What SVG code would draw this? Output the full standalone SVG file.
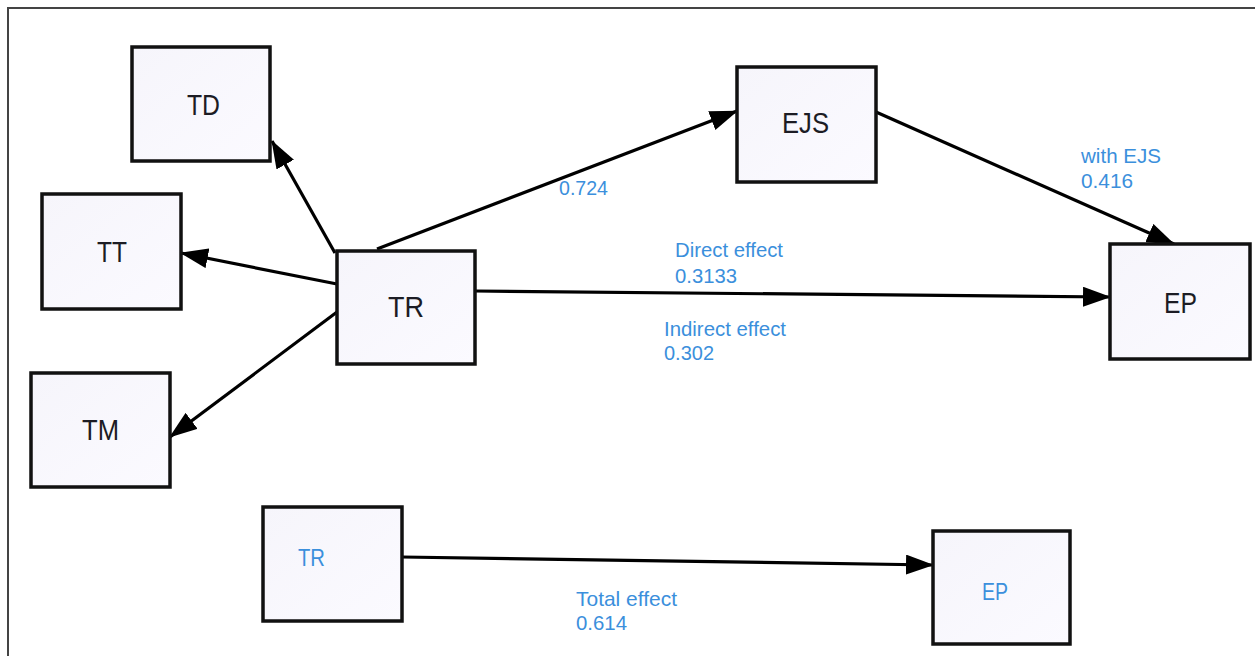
<svg xmlns="http://www.w3.org/2000/svg" width="1255" height="656" viewBox="0 0 1255 656">
<defs>
<linearGradient id="bg" x1="0" y1="0" x2="1" y2="1">
<stop offset="0" stop-color="#f6f5fb"/>
<stop offset="1" stop-color="#fbfaff"/>
</linearGradient>
<marker id="ah" viewBox="0 0 28 20" refX="27" refY="10" markerWidth="28" markerHeight="20" orient="auto" markerUnits="userSpaceOnUse">
<path d="M0,0 L28,10 L0,20 z" fill="#000"/>
</marker>
</defs>
<style>
.box{fill:url(#bg);stroke:#111;stroke-width:3.5}
.nl{font-family:"Liberation Sans",Arial,sans-serif;font-size:30px;fill:#1c1c24}
.bl{font-family:"Liberation Sans",Arial,sans-serif;font-size:23px;fill:#3b8fdc}
.lb{font-family:"Liberation Sans",Arial,sans-serif;font-size:21px;fill:#3b8fdc}
.cn{stroke:#000;stroke-width:3.2;fill:none;marker-end:url(#ah)}
.fr{stroke:#444;stroke-width:2;fill:none}
</style>
<rect width="1255" height="656" fill="#fff"/>
<path class="fr" d="M8,656 L8,8 L1255,8"/>
<g id="connectors">
<line class="cn" x1="335" y1="253" x2="272" y2="141"/>
<line class="cn" x1="337" y1="284" x2="181" y2="253"/>
<line class="cn" x1="337" y1="312" x2="170" y2="437"/>
<line class="cn" x1="377" y1="249" x2="737" y2="111"/>
<line class="cn" x1="876" y1="112" x2="1174" y2="244"/>
<line class="cn" x1="475" y1="291" x2="1110" y2="297"/>
<line class="cn" x1="402" y1="557" x2="933" y2="565"/>
</g>
<g id="node-TD">
<rect class="box" x="132" y="47" width="138" height="114"/>
<text class="nl" x="187" y="115" textLength="33" lengthAdjust="spacingAndGlyphs">TD</text>
</g>
<g id="node-TT">
<rect class="box" x="42" y="194" width="139" height="115"/>
<text class="nl" x="97" y="262" textLength="30" lengthAdjust="spacingAndGlyphs">TT</text>
</g>
<g id="node-TM">
<rect class="box" x="31" y="373" width="139" height="114"/>
<text class="nl" x="82" y="440" textLength="37" lengthAdjust="spacingAndGlyphs">TM</text>
</g>
<g id="node-TR">
<rect class="box" x="337" y="251" width="138" height="113"/>
<text class="nl" x="388" y="317" textLength="36" lengthAdjust="spacingAndGlyphs">TR</text>
</g>
<g id="node-EJS">
<rect class="box" x="737" y="67" width="139" height="115"/>
<text class="nl" x="782" y="133" textLength="47" lengthAdjust="spacingAndGlyphs">EJS</text>
</g>
<g id="node-EP">
<rect class="box" x="1110" y="244" width="140" height="115"/>
<text class="nl" x="1164" y="313" textLength="33" lengthAdjust="spacingAndGlyphs">EP</text>
</g>
<g id="node-TR2">
<rect class="box" x="263" y="507" width="139" height="114"/>
<text class="bl" x="298" y="566" textLength="27" lengthAdjust="spacingAndGlyphs">TR</text>
</g>
<g id="node-EP2">
<rect class="box" x="933" y="531" width="137" height="113"/>
<text class="bl" x="982" y="600" textLength="26" lengthAdjust="spacingAndGlyphs">EP</text>
</g>
<g id="labels">
<text class="lb" x="559" y="195" textLength="49" lengthAdjust="spacingAndGlyphs">0.724</text>
<text class="lb" x="1081" y="163" textLength="80" lengthAdjust="spacingAndGlyphs">with EJS</text>
<text class="lb" x="1081" y="188" textLength="52" lengthAdjust="spacingAndGlyphs">0.416</text>
<text class="lb" x="675" y="257" textLength="108" lengthAdjust="spacingAndGlyphs">Direct effect</text>
<text class="lb" x="675" y="283" textLength="62" lengthAdjust="spacingAndGlyphs">0.3133</text>
<text class="lb" x="664" y="336" textLength="122" lengthAdjust="spacingAndGlyphs">Indirect effect</text>
<text class="lb" x="664" y="360" textLength="50" lengthAdjust="spacingAndGlyphs">0.302</text>
<text class="lb" x="576" y="606" textLength="101" lengthAdjust="spacingAndGlyphs">Total effect</text>
<text class="lb" x="576" y="630" textLength="51" lengthAdjust="spacingAndGlyphs">0.614</text>
</g>
</svg>
